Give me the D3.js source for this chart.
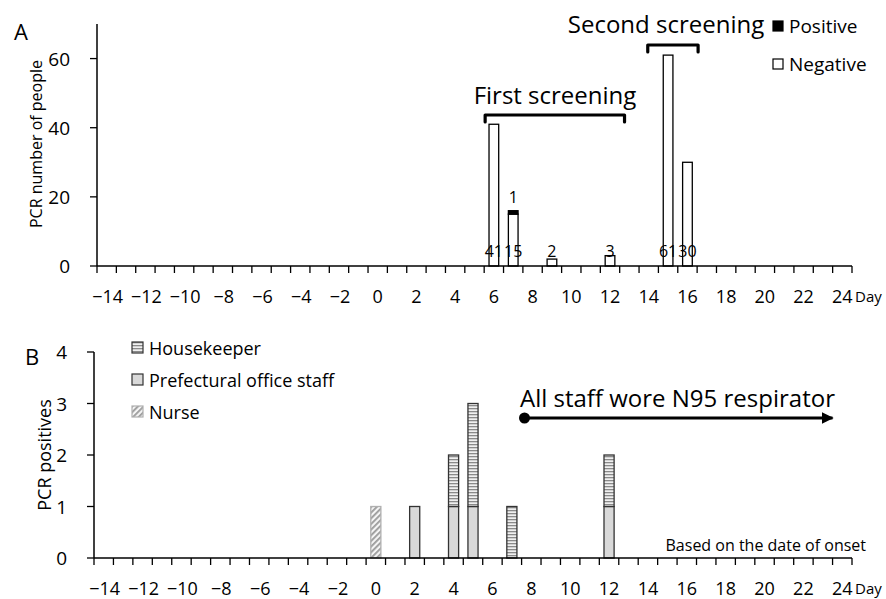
<!DOCTYPE html>
<html>
<head>
<meta charset="utf-8">
<script src="https://cdn.jsdelivr.net/npm/d3@7"></script>
<style>
  body { margin: 0; background: #fff; }
  svg text { font-family: "Open Sans", "Noto Sans", sans-serif; fill: #000; }
</style>
</head>
<body>
<div id="chart"></div>
<script>
// categories on the x axis (days relative to onset)
const days = d3.range(-14, 25);
const dayLabels = days.filter(d => d % 2 === 0);

// Panel A: PCR screening
const screenDays = [6, 7, 9, 12, 15, 16];
const negCounts = [41, 15, 2, 3, 61, 30];
const posCounts = [0, 1, 0, 0, 0, 0];
const aTicks = [0, 20, 40, 60];

// Panel B: PCR positives by onset date
const onsetDays = [0, 2, 4, 5, 7, 12];
const nurse = [1, 0, 0, 0, 0, 0];
const prefStaff = [0, 1, 1, 1, 0, 1];
const housekeeper = [0, 0, 1, 2, 1, 1];
const bTicks = [0, 1, 2, 3, 4];

// annotation spans in day units
const firstScreen = [5.55, 12.75];
const secondScreen = [13.95, 16.55];
const n95Span = [7.65, 23.6];

const minus = d => (d < 0 ? "\u2212" + Math.abs(d) : String(d));

const svg = d3.select("#chart").append("svg")
  .attr("width", 886)
  .attr("height", 599);

// patterns
const defs = svg.append("defs");
const hk = defs.append("pattern").attr("id", "hk")
  .attr("patternUnits", "userSpaceOnUse").attr("width", 4).attr("height", 3);
hk.append("rect").attr("width", 4).attr("height", 3).attr("fill", "#f0f0f0");
hk.append("rect").attr("width", 4).attr("height", 1.3).attr("fill", "#8a8a8a");
const nu = defs.append("pattern").attr("id", "nu")
  .attr("patternUnits", "userSpaceOnUse").attr("width", 4).attr("height", 4)
  .attr("patternTransform", "rotate(45)");
nu.append("rect").attr("width", 4).attr("height", 4).attr("fill", "#f4f4f4");
nu.append("rect").attr("width", 1.8).attr("height", 4).attr("fill", "#9a9a9a");

// ---------- Panel A ----------
const xA = d3.scaleBand().domain(days).range([97, 852]).padding(0);
const yA = d3.scaleLinear().domain([0, 70]).range([266, 24]);
const dayA = d => xA(Math.floor(d)) + xA.bandwidth() * (d - Math.floor(d) + 0.5);
const bw = xA.bandwidth() * 0.5;

const gA = svg.append("g");

const dataA = screenDays.map((d, i) => ({ day: d, neg: negCounts[i], pos: posCounts[i] }));

gA.selectAll(".neg").data(dataA).enter().append("rect")
  .attr("x", d => xA(d.day) + (xA.bandwidth() - bw) / 2)
  .attr("y", d => yA(d.neg))
  .attr("width", bw)
  .attr("height", d => yA(0) - yA(d.neg))
  .attr("fill", "#fff").attr("stroke", "#000").attr("stroke-width", 1.3);

gA.selectAll(".pos").data(dataA.filter(d => d.pos > 0)).enter().append("rect")
  .attr("x", d => xA(d.day) + (xA.bandwidth() - bw) / 2)
  .attr("y", d => yA(d.neg + d.pos))
  .attr("width", bw)
  .attr("height", d => yA(d.neg) - yA(d.neg + d.pos))
  .attr("fill", "#000").attr("stroke", "#000").attr("stroke-width", 1.3);

// value labels at base
gA.selectAll(".vl").data(dataA).enter().append("text")
  .attr("x", d => xA(d.day) + xA.bandwidth() / 2)
  .attr("y", 257)
  .attr("text-anchor", "middle")
  .style("font-size", "16px")
  .text(d => d.neg);
gA.selectAll(".pl").data(dataA.filter(d => d.pos > 0)).enter().append("text")
  .attr("x", d => xA(d.day) + xA.bandwidth() / 2)
  .attr("y", d => yA(d.neg + d.pos) - 8)
  .attr("text-anchor", "middle")
  .style("font-size", "16px")
  .text(d => d.pos);

// axes
function drawAxes(g, x, y, y0, yTicks, yTop) {
  g.append("line").attr("x1", x.range()[0]).attr("x2", x.range()[0])
    .attr("y1", y0).attr("y2", yTop).attr("stroke", "#000").attr("stroke-width", 1.5);
  g.append("line").attr("x1", x.range()[0]).attr("x2", x.range()[1])
    .attr("y1", y0).attr("y2", y0).attr("stroke", "#000").attr("stroke-width", 1.5);
  const bounds = days.map(d => x(d)).concat([x.range()[1]]);
  g.selectAll(".xt").data(bounds).enter().append("line")
    .attr("x1", d => d).attr("x2", d => d)
    .attr("y1", y0).attr("y2", y0 + 7)
    .attr("stroke", "#000").attr("stroke-width", 1.3);
  g.selectAll(".xl").data(dayLabels).enter().append("text")
    .attr("x", d => x(d) + x.bandwidth() / 2 + (d < 0 ? 1 : 0))
    .attr("y", y0 + 37)
    .attr("text-anchor", "middle")
    .style("font-size", "18px")
    .text(minus);
  g.append("text").attr("x", 855).attr("y", y0 + 36)
    .style("font-size", "15px").text("Day");
  g.selectAll(".yt").data(yTicks).enter().append("line")
    .attr("x1", x.range()[0] - 7).attr("x2", x.range()[0])
    .attr("y1", d => y(d)).attr("y2", d => y(d))
    .attr("stroke", "#000").attr("stroke-width", 1.3);
  g.selectAll(".yl").data(yTicks).enter().append("text")
    .attr("x", x.range()[0] - 27)
    .attr("y", d => y(d) + 7)
    .attr("text-anchor", "end")
    .style("font-size", "19px")
    .text(d => d);
}
drawAxes(gA, xA, yA, yA(0), aTicks, 24);

gA.append("text").attr("transform", "translate(42,144) rotate(-90)")
  .attr("text-anchor", "middle").style("font-size", "16px").text("PCR number of people");
gA.append("text").attr("x", 14).attr("y", 40).style("font-size", "22px").text("A");

// screening brackets
function bracket(g, span, yy, label, tx, ty) {
  const x1 = dayA(span[0]), x2 = dayA(span[1]);
  g.append("path")
    .attr("d", `M${x1},${yy + 7}L${x1},${yy}L${x2},${yy}L${x2},${yy + 7}`)
    .attr("fill", "none").attr("stroke", "#000").attr("stroke-width", 3.2)
    .attr("stroke-linejoin", "round").attr("stroke-linecap", "round");
  g.append("text").attr("x", tx).attr("y", ty)
    .attr("text-anchor", "middle").style("font-size", "24px").text(label);
}
bracket(gA, firstScreen, 115, "First screening", 555, 104);
bracket(gA, secondScreen, 45, "Second screening", 666, 33);

// legend A
const legA = [{ label: "Positive", fill: "#000", y: 21 }, { label: "Negative", fill: "#fff", y: 59 }];
legA.forEach(l => {
  gA.append("rect").attr("x", 773).attr("y", l.y).attr("width", 10).attr("height", 10)
    .attr("fill", l.fill).attr("stroke", "#000").attr("stroke-width", 1.2);
  gA.append("text").attr("x", 789).attr("y", l.y + 12).style("font-size", "19px").text(l.label);
});

// ---------- Panel B ----------
const xB = d3.scaleBand().domain(days).range([94, 852]).padding(0);
const yB = d3.scaleLinear().domain([0, 4]).range([558, 352]);
const dayB = d => xB(Math.floor(d)) + xB.bandwidth() * (d - Math.floor(d) + 0.5);
const bwB = xB.bandwidth() * 0.52;

const gB = svg.append("g");
const tableB = onsetDays.map((d, i) => ({ day: d, nurse: nurse[i], pref: prefStaff[i], house: housekeeper[i] }));
const stackB = d3.stack().keys(["nurse", "pref", "house"])(tableB);
const fills = { nurse: "url(#nu)", pref: "#d9d9d9", house: "url(#hk)" };
const strokes = { nurse: "#b0b0b0", pref: "#333", house: "#333" };

stackB.forEach(layer => {
  gB.selectAll(".b-" + layer.key).data(layer.filter(s => s[1] > s[0])).enter().append("rect")
    .attr("x", s => xB(s.data.day) + (xB.bandwidth() - bwB) / 2)
    .attr("y", s => yB(s[1]))
    .attr("width", bwB)
    .attr("height", s => yB(s[0]) - yB(s[1]))
    .attr("fill", fills[layer.key])
    .attr("stroke", strokes[layer.key]).attr("stroke-width", 1.3);
});

drawAxes(gB, xB, yB, yB(0), bTicks, 352);

gB.append("text").attr("transform", "translate(51,455) rotate(-90)")
  .attr("text-anchor", "middle").style("font-size", "18px").text("PCR positives");
gB.append("text").attr("x", 25).attr("y", 365).style("font-size", "22px").text("B");

// legend B
const legB = [
  { label: "Housekeeper", key: "house", y: 342 },
  { label: "Prefectural office staff", key: "pref", y: 374 },
  { label: "Nurse", key: "nurse", y: 406 }
];
legB.forEach(l => {
  gB.append("rect").attr("x", 132).attr("y", l.y).attr("width", 11).attr("height", 11)
    .attr("fill", fills[l.key]).attr("stroke", strokes[l.key]).attr("stroke-width", 1.2);
  gB.append("text").attr("x", 149).attr("y", l.y + 13).style("font-size", "18px").text(l.label);
});

// N95 arrow
const ax1 = dayB(n95Span[0]), ax2 = dayB(n95Span[1]);
defs.append("marker").attr("id", "arr").attr("viewBox", "0 0 10 10")
  .attr("refX", 9).attr("refY", 5).attr("markerWidth", 4).attr("markerHeight", 4)
  .attr("markerUnits", "strokeWidth").attr("orient", "auto")
  .append("path").attr("d", "M0,0L10,5L0,10Z").attr("fill", "#000");
gB.append("line").attr("x1", ax1).attr("x2", ax2 - 2).attr("y1", 418).attr("y2", 418)
  .attr("stroke", "#000").attr("stroke-width", 3).attr("marker-end", "url(#arr)");
gB.append("circle").attr("cx", ax1).attr("cy", 418).attr("r", 5.5).attr("fill", "#000");
gB.append("text").attr("x", 520).attr("y", 407).style("font-size", "24px")
  .text("All staff wore N95 respirator");

gB.append("text").attr("x", 866).attr("y", 551).attr("text-anchor", "end")
  .style("font-size", "16px").text("Based on the date of onset");
</script>
</body>
</html>
